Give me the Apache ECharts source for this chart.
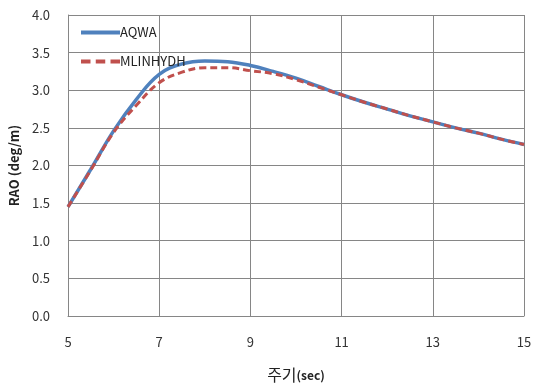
<!DOCTYPE html>
<html>
<head>
<meta charset="utf-8">
<script src="https://cdn.jsdelivr.net/npm/echarts@6/dist/echarts.min.js"></script>
<style>html,body{margin:0;padding:0;background:#fff}#c{width:545px;height:388px}</style>
</head>
<body>
<div id="c"></div>
<script>
const periods = [5, 5.5, 6, 6.5, 7, 7.5, 8, 8.5, 9, 9.5, 10, 10.5, 11, 11.5, 12, 12.5, 13, 13.5, 14, 14.5, 15];
const aqwa    = [1.45, 1.95, 2.46, 2.88, 3.21, 3.35, 3.39, 3.38, 3.33, 3.25, 3.16, 3.05, 2.94, 2.84, 2.75, 2.66, 2.58, 2.50, 2.43, 2.35, 2.28];
const mlin    = [1.45, 1.94, 2.44, 2.80, 3.10, 3.24, 3.30, 3.30, 3.26, 3.22, 3.14, 3.04, 2.94, 2.84, 2.75, 2.66, 2.58, 2.50, 2.43, 2.35, 2.28];
const xTickLabels = ['5', '7', '9', '11', '13', '15'];
const seriesNames = ['AQWA', 'MLINHYDH'];

const font = '"Noto Sans CJK KR", "Open Sans", sans-serif';
const chart = echarts.init(document.getElementById('c'), null, {renderer: 'canvas'});
chart.setOption({
  animation: false,
  backgroundColor: '#fff',
  grid: {left: 68, right: 21, top: 15, bottom: 69, containLabel: false},
  legend: {
    left: 76, top: 21, orient: 'vertical', itemGap: 16, itemWidth: 39, itemHeight: 14,
    textStyle: {fontFamily: font, fontSize: 13, color: '#222', padding: [0, 0, 0, -5]},
    data: [
      {name: seriesNames[0], icon: 'path://M0,0 L40,0 L40,4 L0,4 Z'},
      {name: seriesNames[1], icon: 'path://M0,0 L9,0 L9,4 L0,4 Z M14,0 L23,0 L23,4 L14,4 Z M28,0 L37,0 L37,4 L28,4 Z'}
    ]
  },
  xAxis: {
    type: 'value', min: 5, max: 15, interval: 1,
    axisLine: {show: true, lineStyle: {color: '#868686', width: 1}},
    axisTick: {show: false},
    axisLabel: {
      fontFamily: font, fontSize: 13, color: '#333', margin: 20,
      formatter: v => (xTickLabels.indexOf(String(v)) >= 0 ? String(v) : '')
    },
    splitLine: {show: true, lineStyle: {color: ['#868686', 'rgba(0,0,0,0)'], width: 1}},
    name: '{a|주기}{b|(sec)}', nameLocation: 'middle', nameGap: 51,
    nameTextStyle: {
      rich: {
        a: {fontFamily: font, fontSize: 16, color: '#222'},
        b: {fontFamily: font, fontSize: 12, fontWeight: 'bold', color: '#222'}
      }
    }
  },
  yAxis: {
    type: 'value', min: 0, max: 4, interval: 0.5,
    axisLine: {show: true, lineStyle: {color: '#868686', width: 1}},
    axisTick: {show: false},
    axisLabel: {fontFamily: font, fontSize: 13, color: '#333', margin: 18, formatter: v => v.toFixed(1)},
    splitLine: {show: true, lineStyle: {color: '#868686', width: 1}},
    name: 'RAO (deg/m)', nameLocation: 'middle', nameGap: 43,
    nameTextStyle: {fontFamily: font, fontSize: 13, fontWeight: 'bold', color: '#222'}
  },
  series: [
    {
      name: seriesNames[0], type: 'line', smooth: 0.4, symbol: 'none',
      data: periods.map((p, i) => [p, aqwa[i]]),
      lineStyle: {color: '#4F81BD', width: 3.5},
      itemStyle: {color: '#4F81BD'}, z: 2
    },
    {
      name: seriesNames[1], type: 'line', smooth: 0.4, symbol: 'none',
      data: periods.map((p, i) => [p, mlin[i]]),
      lineStyle: {color: '#C0504D', width: 3, type: [7, 4]},
      itemStyle: {color: '#C0504D'}, z: 3
    }
  ]
});
</script>
</body>
</html>
